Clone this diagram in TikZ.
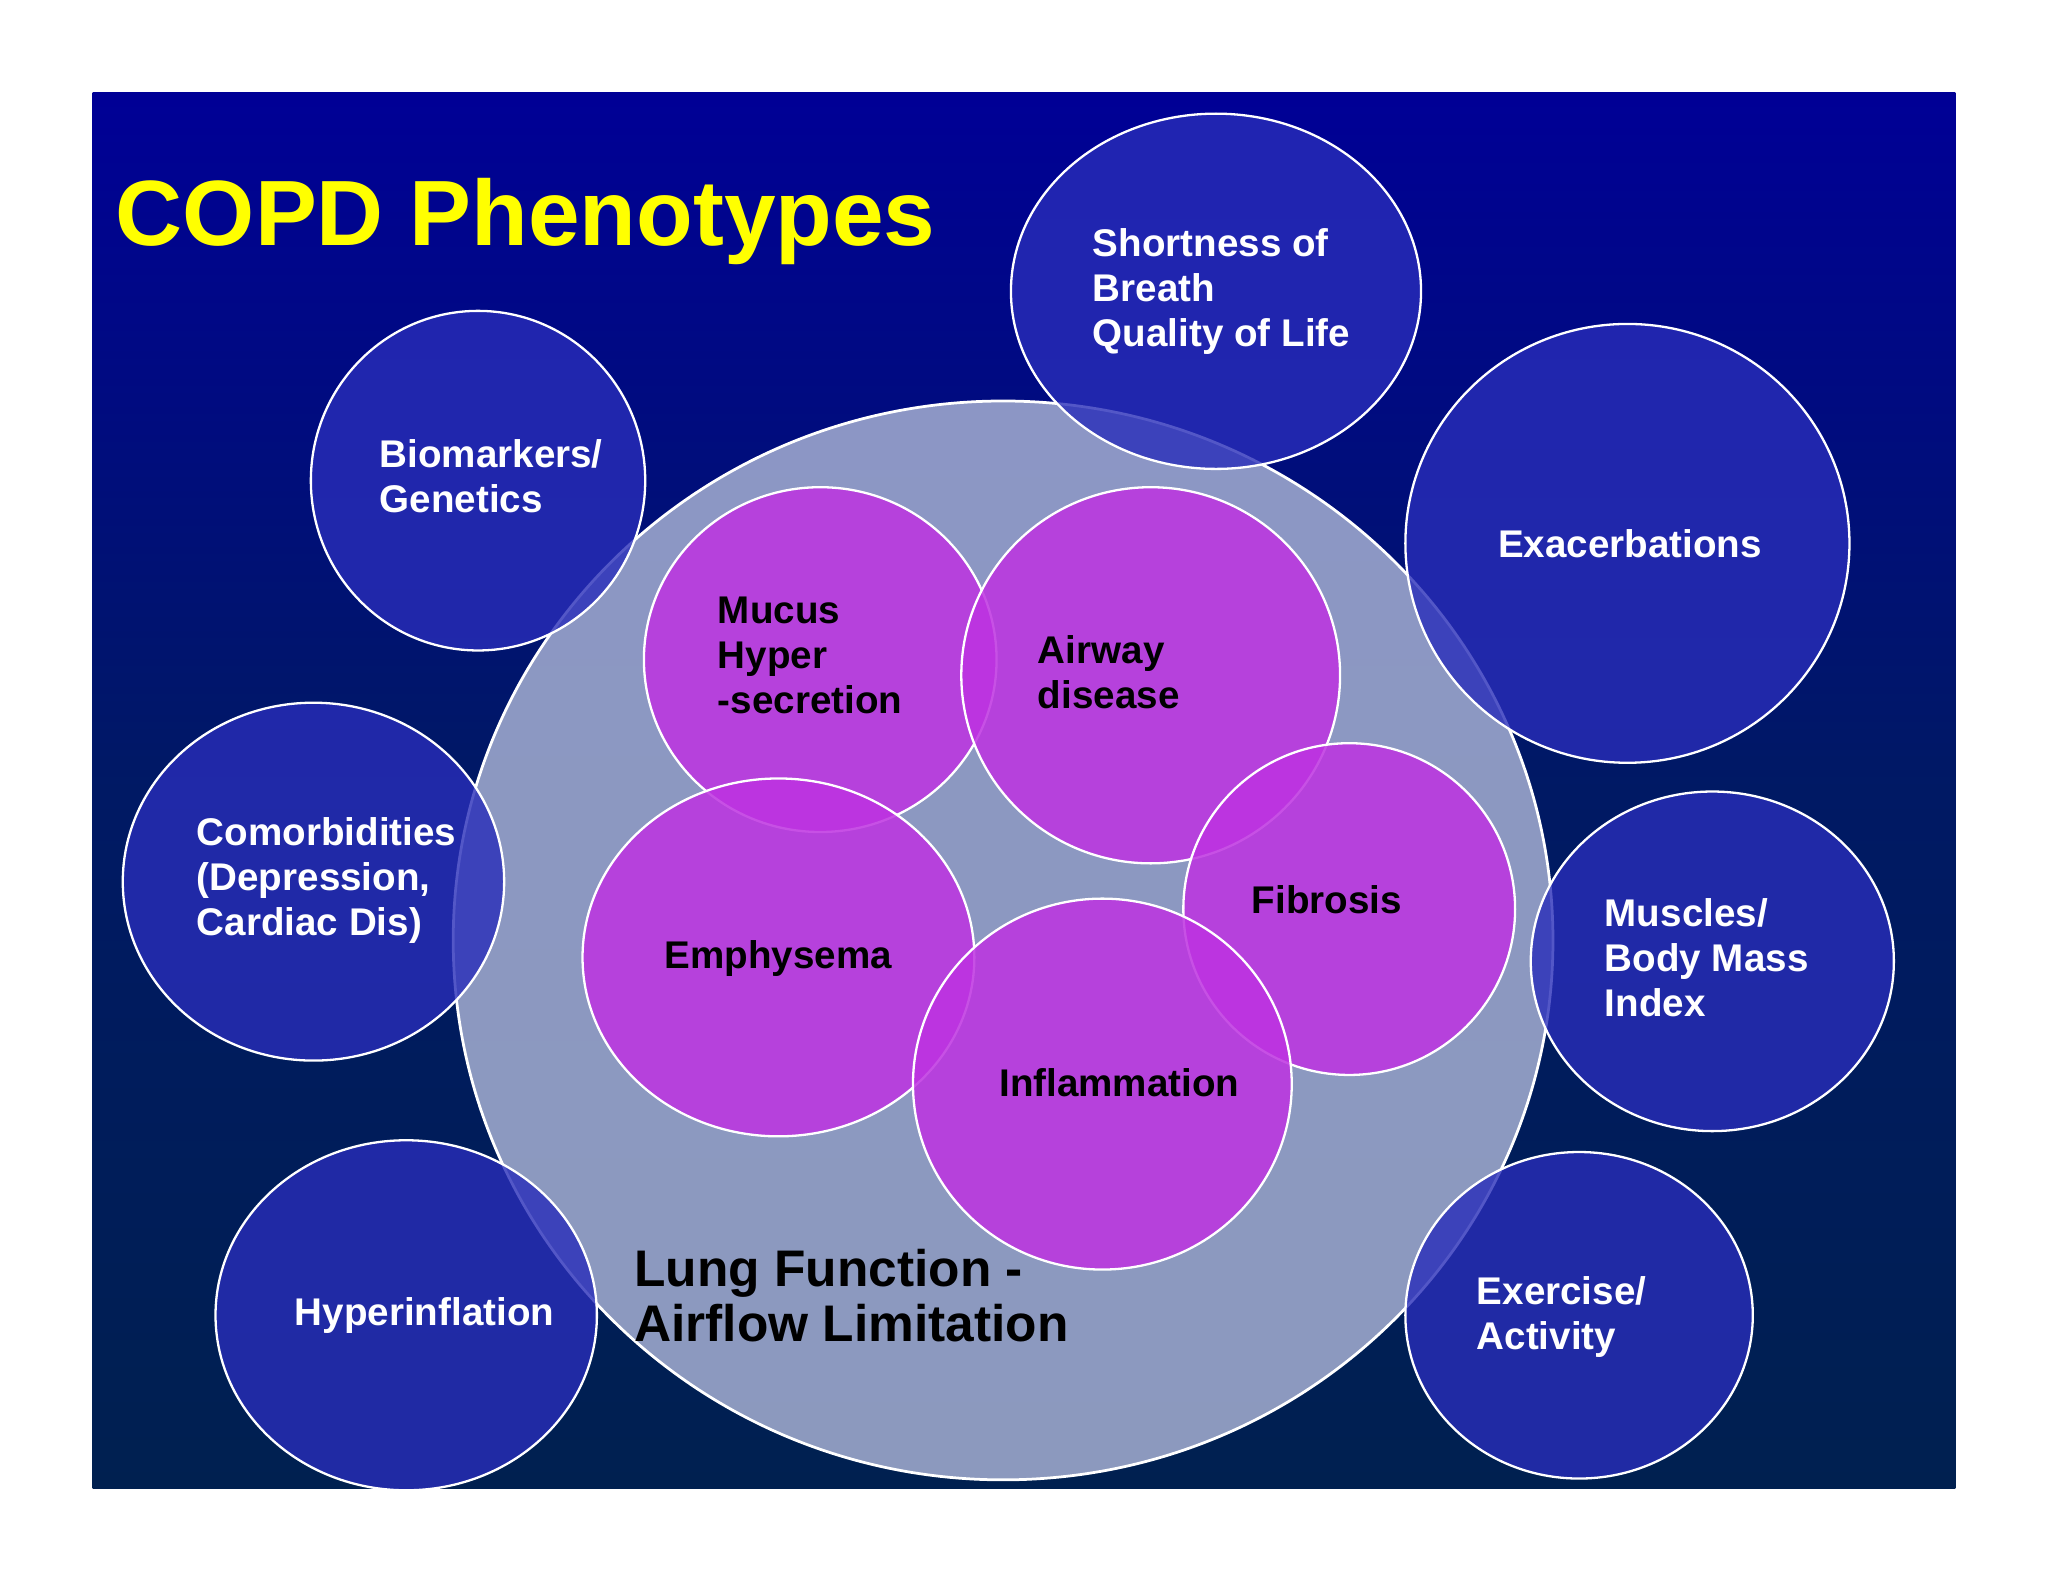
\documentclass[tikz,border=0pt]{standalone}
\usepackage{fontspec}
\setmainfont{Liberation Sans}
\begin{document}
\begin{tikzpicture}[x=0.01cm,y=-0.01cm,
  bluec/.style={draw=white,line width=0.5pt,fill={rgb,255:red,40;green,45;blue,185},fill opacity=0.8},
  magc/.style={draw=white,line width=0.5pt,fill={rgb,255:red,190;green,50;blue,225},fill opacity=0.85},
  wt/.style={text=white,font=\bfseries\fontsize{8.4}{9.8}\selectfont,align=left,inner sep=0},
  bt/.style={text=black,font=\bfseries\fontsize{8.4}{9.8}\selectfont,align=left,inner sep=0}]
\useasboundingbox (0,0) rectangle (1568,1211);
\fill[white] (0,0) rectangle (1568,1211);
\shade[top color={rgb,255:red,0;green,0;blue,150},bottom color={rgb,255:red,0;green,32;blue,80},middle color={rgb,255:red,0;green,25;blue,100}] (71,71) rectangle (1497,1140);
\node[anchor=base west,inner sep=0,text={rgb,255:red,255;green,255;blue,0},font=\bfseries\fontsize{20.2}{24}\selectfont] (title) at (88,188) {COPD Phenotypes};
% big circle
\path[draw=white,line width=0.6pt,fill={rgb,255:red,165;green,175;blue,210},fill opacity=0.85] (768,720) ellipse [x radius=421,y radius=413];
\coordinate (big) at (768,720);
% blue circles
\path[bluec] (931,223) ellipse [x radius=157,y radius=136];
\path[bluec] (366,368) ellipse [x radius=128,y radius=130];
\path[bluec] (1246,416) ellipse [x radius=170,y radius=168];
\path[bluec] (240,675) ellipse [x radius=146,y radius=137];
\path[bluec] (1311,736) ellipse [x radius=139,y radius=130];
\path[bluec] (311,1007) ellipse [x radius=146,y radius=134];
\path[bluec] (1209,1007) ellipse [x radius=133,y radius=125];
% magenta circles
\path[magc] (628,505) ellipse [x radius=135,y radius=132];
\path[magc] (881,517) ellipse [x radius=145,y radius=144];
\path[magc] (596,733) ellipse [x radius=150,y radius=137];
\path[magc] (1033,696) ellipse [x radius=127,y radius=127];
\path[magc] (844,830) ellipse [x radius=145,y radius=142];
% texts
\node[wt,anchor=north west] (sob) at (836,174) {Shortness of\\Breath\\Quality of Life};
\node[wt,anchor=north west] (bio) at (290,336) {Biomarkers/\\Genetics};
\node[wt] (exa) at (1248,416) {Exacerbations};
\node[wt,anchor=north west] (com) at (150,625) {Comorbidities\\(Depression,\\Cardiac Dis)};
\node[wt,anchor=north west] (mus) at (1228,687) {Muscles/\\Body Mass\\Index};
\node[wt] (hyp) at (325,1007) {Hyperinflation};
\node[wt,anchor=north west] (exe) at (1130,977) {Exercise/\\Activity};
\node[bt,anchor=north west] (muc) at (549,456) {Mucus\\Hyper\\-secretion};
\node[bt,anchor=north west] (air) at (794,486) {Airway\\disease};
\node[bt] (emp) at (596,734) {Emphysema};
\node[bt] (fib) at (1016,689) {Fibrosis};
\node[bt] (inf) at (857,829) {Inflammation};
\node[anchor=north west,inner sep=0,align=left,font=\bfseries\fontsize{11.2}{12}\selectfont] (lung) at (485,956) {Lung Function -\\Airflow Limitation};
\end{tikzpicture}
\end{document}
